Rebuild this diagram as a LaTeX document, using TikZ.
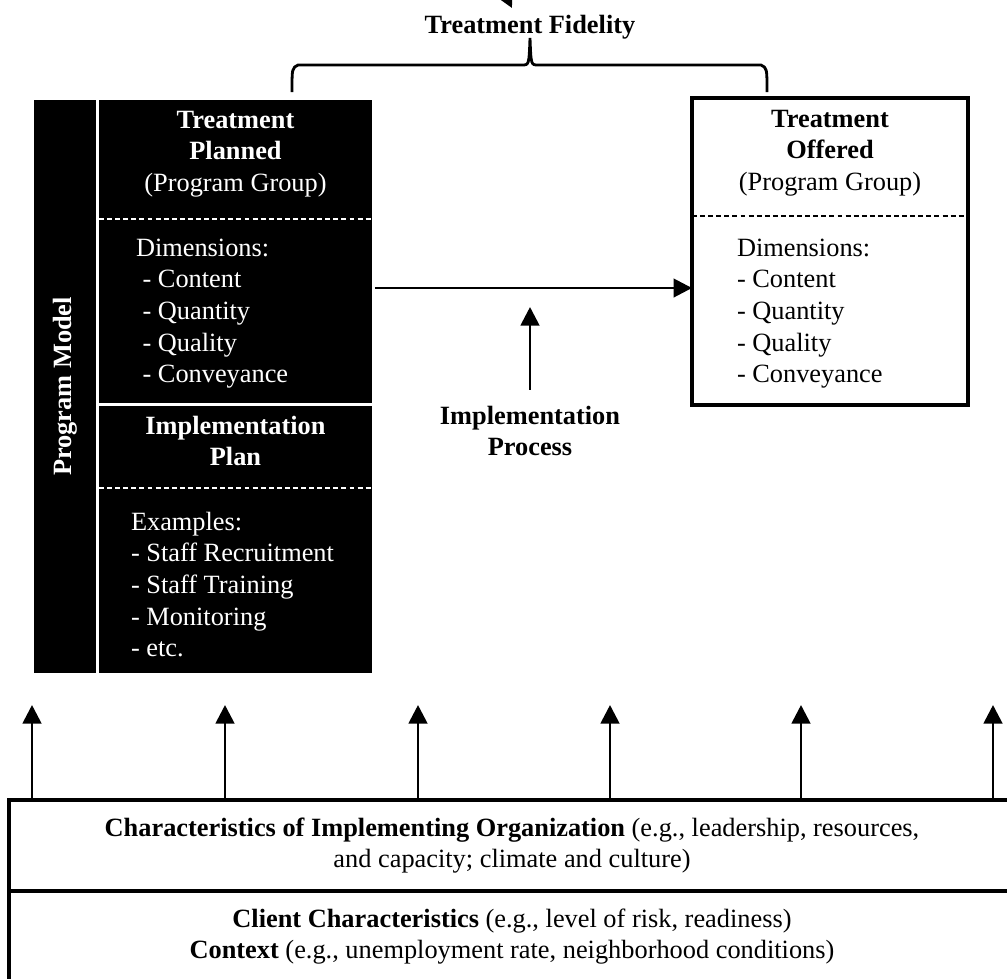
\documentclass[tikz,border=0pt]{standalone}
\usepackage{fontspec}
\setmainfont{Liberation Serif}
\usetikzlibrary{arrows.meta, positioning}

\begin{document}
\begin{tikzpicture}[x=0.02cm, y=-0.02cm]
      \tikzstyle{every node}=[font=\fontsize{15}{18}\selectfont, inner sep=0pt, outer sep=0pt]
      \tikzstyle{blackbox}=[fill=black, text=white]
      \tikzstyle{whitebox}=[draw, line width=2pt, align=center]
      \tikzstyle{headtext}=[align=center, font=\fontsize{15}{18}\selectfont\bfseries]
      \tikzstyle{itemlist}=[align=left, anchor=west]
      \tikzstyle{arr}=[line width=1.6pt, -{Triangle[length=0.37cm, width=0.37cm]}]
      \tikzstyle{divider}=[line width=1.4pt, dash pattern=on 2.8pt off 1.8pt]
      \tikzstyle{brc}=[line width=1.6pt]
      \useasboundingbox (0,0) rectangle (1007,978);
      \node [blackbox, rotate=90, minimum width=11.46cm, minimum height=1.24cm, font=\fontsize{15}{18}\selectfont\bfseries] (model) at (65,386.5) {Program Model};
      \node [blackbox, minimum width=5.46cm, minimum height=6.06cm] (planned) at (235.5,251.5) {};
      \node [blackbox, minimum width=5.46cm, minimum height=5.34cm] (implan) at (235.5,539.5) {};
      \node [whitebox, minimum width=5.52cm, minimum height=6.14cm] (offered) at (830,251.5) {};
      \node [headtext, text=white] (plannedhead) at (235.5,154) {Treatment\\Planned\\\textmd{(Program Group)}};
      \node [itemlist, text=white] (planneddims) at (136,313.5) {Dimensions:\\\hspace*{0.25em}- Content\\\hspace*{0.25em}- Quantity\\\hspace*{0.25em}- Quality\\\hspace*{0.25em}- Conveyance};
      \node [headtext, text=white] (implhead) at (235.5,441) {Implementation\\Plan};
      \node [itemlist, text=white] (examples) at (131,584.5) {Examples:\\- Staff Recruitment\\- Staff Training\\- Monitoring\\- etc.};
      \node [headtext] (offeredhead) at (830,153) {Treatment\\Offered\\\textmd{(Program Group)}};
      \node [itemlist] (offereddims) at (737,313.5) {Dimensions:\\- Content\\- Quantity\\- Quality\\- Conveyance};
      \coordinate (cut1) at (0,219);
      \coordinate (cut2) at (0,488);
      \coordinate (cut3) at (0,216);
      \draw [divider, white] (planned.west |- cut1) -- (planned.east |- cut1);
      \draw [divider, white] (implan.west |- cut2) -- (implan.east |- cut2);
      \draw [divider] (offered.west |- cut3) -- (offered.east |- cut3);
      \node [headtext] (fid) at (530,27) {Treatment Fidelity};
      \coordinate (fidsrc) at (467,-81);
      \coordinate (fidtip) at (512,8);
      \draw [arr] (fidsrc) -- (fidtip);
      \coordinate (bl) at (292,92);
      \coordinate (br) at (767,92);
      \coordinate (bt) at (530,38);
      \draw [brc] (bl) .. controls (292,68) .. (298,65) -- (522,65) .. controls (529,65) .. (bt) .. controls (531,65) .. (538,65) -- (761,65) .. controls (767,68) .. (br);
      \coordinate (flow) at (530,288);
      \draw [arr, shorten <=0.06cm] (planned.east |- flow) -- (offered.west |- flow);
      \node [headtext] (procs) at (530,431) {Implementation\\Process};
      \coordinate (proctip) at (530,307);
      \draw [arr, shorten <=0.32cm] (procs.north) -- (proctip);
      \node [whitebox, minimum width=20.12cm, minimum height=1.82cm] (org) at (512,845.5) {\textbf{Characteristics of Implementing Organization} (e.g., leadership, resources,\\and capacity; climate and culture)};
      \node [whitebox, minimum width=20.12cm, minimum height=1.82cm, below=0pt of org] (client) {\textbf{Client Characteristics} (e.g., level of risk, readiness)\\\textbf{Context} (e.g., unemployment rate, neighborhood conditions)};
      \coordinate (t1) at (32,705);
      \coordinate (t2) at (225,705);
      \coordinate (t3) at (418,705);
      \coordinate (t4) at (610,705);
      \coordinate (t5) at (801,705);
      \coordinate (t6) at (993,705);
      \draw [arr] (org.north -| t1) -- (t1);
      \draw [arr] (org.north -| t2) -- (t2);
      \draw [arr] (org.north -| t3) -- (t3);
      \draw [arr] (org.north -| t4) -- (t4);
      \draw [arr] (org.north -| t5) -- (t5);
      \draw [arr] (org.north -| t6) -- (t6);
\end{tikzpicture}
\end{document}
